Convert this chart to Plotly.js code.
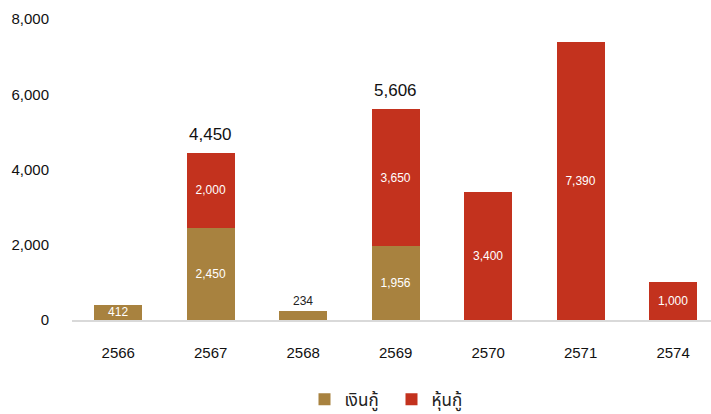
<!DOCTYPE html>
<html>
<head>
<meta charset="utf-8">
<script src="https://cdn.plot.ly/plotly-3.0.1.min.js"></script>
<style>html,body{margin:0;padding:0;background:#fff;}#chart{width:711px;height:414px;}</style>
</head>
<body>
<div id="chart"></div>
<script>
const categories = ['2566', '2567', '2568', '2569', '2570', '2571', '2574'];
const loans = [412, 2450, 234, 1956, null, null, null];
const bonds = [null, 2000, null, 3650, 3400, 7390, 1000];
const seriesNames = ['เงินกู้', 'หุ้นกู้'];
const loanPos = ['inside', 'inside', 'outside', 'inside', 'inside', 'inside', 'inside'];

const fmt = v => v == null ? '' : v.toLocaleString('en-US');
const FONT = '"Liberation Sans", Arial, "Noto Sans Thai", "Noto Sans", sans-serif';

const traces = [
  {
    type: 'bar', name: seriesNames[0], x: categories, y: loans,
    marker: {color: '#A8823F'},
    text: loans.map(fmt), textposition: loanPos,
    insidetextanchor: 'middle',
    insidetextfont: {color: '#ffffff', size: 12, family: FONT},
    outsidetextfont: {color: '#222222', size: 12, family: FONT},
    cliponaxis: false, hoverinfo: 'x+y'
  },
  {
    type: 'bar', name: seriesNames[1], x: categories, y: bonds,
    marker: {color: '#C3321E'},
    text: bonds.map(fmt), textposition: 'inside',
    insidetextanchor: 'middle',
    insidetextfont: {color: '#ffffff', size: 12, family: FONT},
    cliponaxis: false, hoverinfo: 'x+y'
  }
];

const annotations = [];
categories.forEach((c, i) => {
  if (loans[i] != null && bonds[i] != null) {
    const total = loans[i] + bonds[i];
    annotations.push({
      xref: 'x', yref: 'y',
      x: i, y: total, text: fmt(total), showarrow: false,
      yanchor: 'bottom', yshift: 7,
      font: {size: 17, color: '#111111', family: FONT}
    });
  }
});

const layout = {
  width: 711, height: 414,
  margin: {l: 72, r: 0, t: 19, b: 94, autoexpand: false},
  barmode: 'stack', bargap: 0.48,
  paper_bgcolor: '#ffffff', plot_bgcolor: '#ffffff',
  font: {family: FONT, size: 15, color: '#222222'},
  showlegend: true,
  legend: {orientation: 'h', x: 0.5, xanchor: 'center', y: -0.205, yanchor: 'top',
           font: {size: 17, color: '#222222'}, traceorder: 'normal',
           entrywidth: 42, entrywidthmode: 'pixels'},
  xaxis: {type: 'category', range: [-0.5, 6.41], showline: true, linecolor: '#d9d9d9', linewidth: 1.5,
          ticks: '', tickfont: {size: 15, color: '#111111'}, ticklabelstandoff: 18,
          showgrid: false, zeroline: false, fixedrange: true, automargin: false},
  yaxis: {range: [0, 8000], tickvals: [0, 2000, 4000, 6000, 8000], tickformat: ',d',
          showgrid: false, zeroline: false, showline: false, ticks: '',
          tickfont: {size: 15, color: '#111111'}, ticklabelstandoff: 22, fixedrange: true, automargin: false},
  annotations: annotations,
  uniformtext: {mode: 'show', minsize: 12}
};

Plotly.newPlot('chart', traces, layout, {displayModeBar: false, staticPlot: true});
</script>
</body>
</html>
